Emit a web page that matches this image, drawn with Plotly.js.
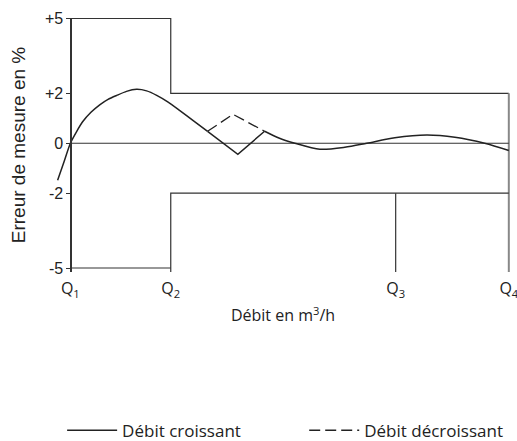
<!DOCTYPE html>
<html>
<head>
<meta charset="utf-8">
<script src="https://cdn.plot.ly/plotly-3.0.1.min.js"></script>
<style>html,body{margin:0;padding:0;background:#fff}#chart{width:517px;height:441px}</style>
</head>
<body>
<div id="chart"></div>
<script>
// Flow rate positions (schematic units: Q1 = 0, Q4 = 10)
const qNames = ['Q<sub>1</sub>', 'Q<sub>2</sub>', 'Q<sub>3</sub>', 'Q<sub>4</sub>'];
const qPos = [0, 2.29, 7.42, 10];

// Error limits (%)
const upperLow = 5;     // Q1..Q2
const upperHigh = 2;    // Q2..Q4
const lowerLow = -5;    // Q1..Q2
const lowerHigh = -2;   // Q2..Q4
const yBottom = -5.16;

// Y tick labels
const yTickVals = [5, 2, 0, -2, -5];
const yTickText = ['+5', '+2', '0', '-2', '-5'];

// Increasing flow curve (solid), in three parts
const riseX1 = [-0.29, -0.14, 0, 0.14, 0.28, 0.47, 0.67, 0.86, 1.06, 1.28, 1.51, 1.74, 1.97, 2.23, 2.49, 2.81, 3.13];
const riseY1 = [-1.48, -0.72, 0, 0.46, 0.86, 1.24, 1.54, 1.76, 1.92, 2.08, 2.16, 2.1, 1.92, 1.65, 1.32, 0.9, 0.48];
const riseX2 = [3.13, 3.82, 4.43];
const riseY2 = [0.48, -0.44, 0.48];
const riseX3 = [4.43, 4.77, 5.12, 5.69, 6.26, 6.76, 7.40, 8.13, 8.77, 9.45, 10];
const riseY3 = [0.48, 0.2, 0, -0.24, -0.16, 0, 0.22, 0.33, 0.24, 0, -0.29];

// Decreasing flow branch (dashed)
const fallX = [3.13, 3.71, 4.43];
const fallY = [0.48, 1.16, 0.48];

const ink = '#222';
const env = {color: '#333', width: 1.2};

const traces = [
  {x: [qPos[0], qPos[1], qPos[1], qPos[3]], y: [upperLow, upperLow, upperHigh, upperHigh],
   mode: 'lines', line: env, showlegend: false, hoverinfo: 'skip'},
  {x: [qPos[3], qPos[3]], y: [upperHigh, yBottom],
   mode: 'lines', line: {color: '#888', width: 2}, showlegend: false, hoverinfo: 'skip'},
  {x: [qPos[0], qPos[1], null, qPos[1], qPos[1], qPos[3]],
   y: [lowerLow, lowerLow, null, yBottom, lowerHigh, lowerHigh],
   mode: 'lines', line: env, showlegend: false, hoverinfo: 'skip', connectgaps: false},
  {x: [qPos[2], qPos[2]], y: [lowerHigh, yBottom],
   mode: 'lines', line: env, showlegend: false, hoverinfo: 'skip'},
  {x: [qPos[0], qPos[3]], y: [0, 0],
   mode: 'lines', line: env, showlegend: false, hoverinfo: 'skip'},
  {x: riseX1, y: riseY1, mode: 'lines', line: {color: ink, width: 1.5, shape: 'spline', smoothing: 0.6},
   name: 'Débit croissant', legendgroup: 'a', showlegend: true, legend: 'legend'},
  {x: riseX2, y: riseY2, mode: 'lines', line: {color: ink, width: 1.5},
   legendgroup: 'a', showlegend: false},
  {x: riseX3, y: riseY3, mode: 'lines', line: {color: ink, width: 1.5, shape: 'spline', smoothing: 0.8},
   legendgroup: 'a', showlegend: false},
  {x: fallX, y: fallY, mode: 'lines', line: {color: ink, width: 1.3, dash: '11px,5px'},
   name: 'Débit décroissant', legendgroup: 'b', showlegend: true, legend: 'legend2'}
];

const xMin = -0.35, xMax = 10.05;
const legendFont = {family: 'Open Sans', size: 17, color: ink};
const legendY = -0.6248;
const layout = {
  width: 517, height: 441,
  margin: {l: 55.4, r: 5.8, t: 17.5, b: 169, autoexpand: false},
  paper_bgcolor: '#fff', plot_bgcolor: '#fff',
  showlegend: true,
  xaxis: {
    range: [xMin, xMax], showgrid: false, zeroline: false, showline: false,
    tickmode: 'array', tickvals: qPos, ticktext: qNames,
    ticks: 'outside', ticklen: 2, tickcolor: 'rgba(0,0,0,0)',
    ticklabeloverflow: 'allow',
    tickfont: {family: 'Open Sans', size: 16, color: ink},
    title: {text: 'Débit en m<sup>3</sup>/h', font: {family: 'Open Sans', size: 16, color: ink}, standoff: 10},
    automargin: false, fixedrange: true
  },
  yaxis: {
    range: [yBottom, 5.02], showgrid: false, zeroline: false,
    showline: true, linecolor: '#333', linewidth: 1.2,
    anchor: 'free', position: (0 - xMin) / (xMax - xMin),
    tickmode: 'array', tickvals: yTickVals, ticktext: yTickText,
    ticks: 'outside', ticklen: 4, tickcolor: '#333', tickwidth: 1,
    tickfont: {family: 'Liberation Sans', size: 16, color: ink},
    title: {text: 'Erreur de mesure en %', font: {family: 'Liberation Sans', size: 19, color: ink}, standoff: 13},
    automargin: false, fixedrange: true
  },
  legend: {
    orientation: 'h', x: 0.0156, y: legendY, xanchor: 'left', yanchor: 'middle',
    font: legendFont, itemwidth: 50, bgcolor: 'rgba(0,0,0,0)'
  },
  legend2: {
    orientation: 'h', x: 0.5465, y: legendY, xanchor: 'left', yanchor: 'middle',
    font: legendFont, itemwidth: 50, bgcolor: 'rgba(0,0,0,0)'
  }
};

Plotly.newPlot('chart', traces, layout, {displayModeBar: false, staticPlot: true});
</script>
</body>
</html>
